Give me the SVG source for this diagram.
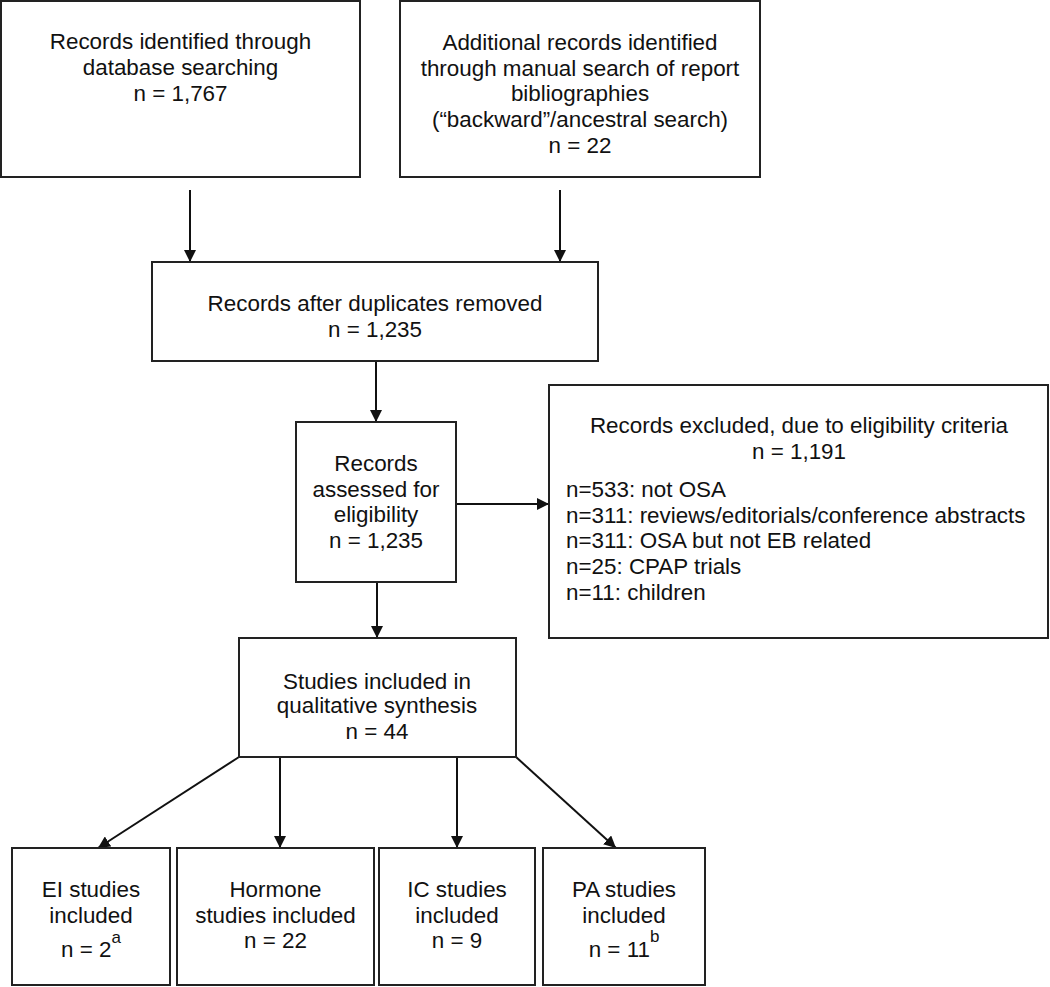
<svg xmlns="http://www.w3.org/2000/svg" width="1050" height="987" viewBox="0 0 1050 987">
<defs>
<style>
.box{fill:#fff;stroke:#222;stroke-width:2}
.t{font-family:"Liberation Sans",Arial,sans-serif;font-size:22.4px;fill:#111;text-anchor:middle}
.l{text-anchor:start}
.sup{font-size:17px}
.c{stroke:#111;stroke-width:2;fill:none;marker-end:url(#ah)}
</style>
<marker id="ah" markerWidth="12" markerHeight="12" refX="12" refY="6" orient="auto" markerUnits="userSpaceOnUse">
<path d="M0,0 L12,6 L0,12 z" fill="#111"/>
</marker>
</defs>
<rect width="1050" height="987" fill="#fff"/>
<g id="connectors">
<line class="c" x1="190" y1="190" x2="190" y2="262"/>
<line class="c" x1="560" y1="190" x2="560" y2="262"/>
<line class="c" x1="376" y1="361" x2="376" y2="422"/>
<line class="c" x1="456" y1="504" x2="549" y2="504"/>
<line class="c" x1="377" y1="582" x2="377" y2="638"/>
<line class="c" x1="239" y1="757" x2="98" y2="848"/>
<line class="c" x1="280" y1="757" x2="280" y2="848"/>
<line class="c" x1="457" y1="757" x2="457" y2="848"/>
<line class="c" x1="516" y1="757" x2="616" y2="848"/>
</g>
<g id="n1">
<rect class="box" x="1" y="1" width="359" height="176"/>
<text class="t" x="180.5" y="49">Records identified through</text>
<text class="t" x="180.5" y="75">database searching</text>
<text class="t" x="180.5" y="101">n = 1,767</text>
</g>
<g id="n2">
<rect class="box" x="400" y="1" width="360" height="176"/>
<text class="t" x="580" y="50">Additional records identified</text>
<text class="t" x="580" y="76">through manual search of report</text>
<text class="t" x="580" y="101">bibliographies</text>
<text class="t" x="580" y="127">(“backward”/ancestral search)</text>
<text class="t" x="580" y="153">n = 22</text>
</g>
<g id="n3">
<rect class="box" x="152" y="262" width="446" height="99"/>
<text class="t" x="375" y="311">Records after duplicates removed</text>
<text class="t" x="375" y="337">n = 1,235</text>
</g>
<g id="n4">
<rect class="box" x="296" y="422" width="160" height="160"/>
<text class="t" x="376" y="471">Records</text>
<text class="t" x="376" y="497">assessed for</text>
<text class="t" x="376" y="522">eligibility</text>
<text class="t" x="376" y="548">n = 1,235</text>
</g>
<g id="n5">
<rect class="box" x="549" y="385" width="499" height="253"/>
<text class="t" x="799" y="433">Records excluded, due to eligibility criteria</text>
<text class="t" x="799" y="459">n = 1,191</text>
<text class="t l" x="566" y="497">n=533: not OSA</text>
<text class="t l" x="566" y="523">n=311: reviews/editorials/conference abstracts</text>
<text class="t l" x="566" y="548">n=311: OSA but not EB related</text>
<text class="t l" x="566" y="574">n=25: CPAP trials</text>
<text class="t l" x="566" y="600">n=11: children</text>
</g>
<g id="n6">
<rect class="box" x="239" y="638" width="277" height="119"/>
<text class="t" x="377" y="689">Studies included in</text>
<text class="t" x="377" y="713">qualitative synthesis</text>
<text class="t" x="377" y="739">n = 44</text>
</g>
<g id="n7">
<rect class="box" x="12" y="848" width="158" height="137"/>
<text class="t" x="91" y="897">EI studies</text>
<text class="t" x="91" y="923">included</text>
<text class="t" x="91" y="957">n = 2<tspan class="sup" dy="-14">a</tspan></text>
</g>
<g id="n8">
<rect class="box" x="177" y="848" width="197" height="137"/>
<text class="t" x="275.5" y="897">Hormone</text>
<text class="t" x="275.5" y="923">studies included</text>
<text class="t" x="275.5" y="948">n = 22</text>
</g>
<g id="n9">
<rect class="box" x="379" y="848" width="156" height="137"/>
<text class="t" x="457" y="897">IC studies</text>
<text class="t" x="457" y="923">included</text>
<text class="t" x="457" y="948">n = 9</text>
</g>
<g id="n10">
<rect class="box" x="543" y="848" width="162" height="137"/>
<text class="t" x="624" y="897">PA studies</text>
<text class="t" x="624" y="923">included</text>
<text class="t" x="624" y="957">n = 11<tspan class="sup" dy="-15">b</tspan></text>
</g>
</svg>
